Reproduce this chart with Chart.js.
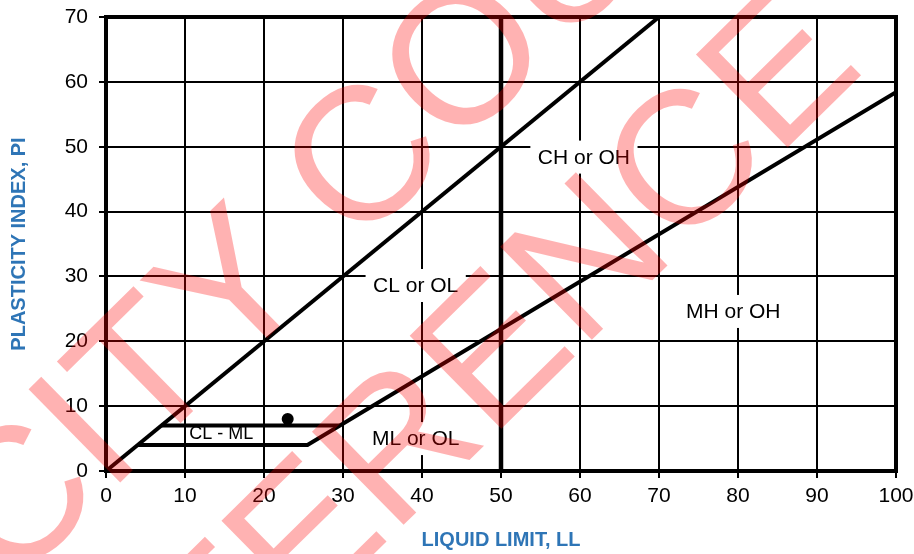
<!DOCTYPE html>
<html>
<head>
<meta charset="utf-8">
<script src="https://cdn.jsdelivr.net/npm/chart.js@4.4.0/dist/chart.umd.min.js"></script>
<style>
  html, body { margin: 0; padding: 0; background: #fff; }
  #wrap { width: 914px; height: 554px; }
</style>
</head>
<body>
<div id="wrap"><canvas id="plasticityChart" width="914" height="554"></canvas></div>
<script>
// Plasticity chart data (liquid limit LL vs plasticity index PI)
const xTickValues = [0, 10, 20, 30, 40, 50, 60, 70, 80, 90, 100];
const yTickValues = [0, 10, 20, 30, 40, 50, 60, 70];

// Upper boundary line
const uLineLL = [0, 70];
const uLinePI = [0, 70];

// A-line with the PI = 4 step at the bottom
const aLineLL = [4, 25.5, 100];
const aLinePI = [4, 4, 58.4];

// Top of the CL-ML band (PI = 7)
const clmlLL = [7, 29.6];
const clmlPI = [7, 7];

// LL = 50 divider
const dividerLL = [50, 50];
const dividerPI = [0, 70];

// Sample point
const sampleLL = [23];
const samplePI = [8];

// Zone names and where they sit
const zoneNames = ['CH or OH', 'CL or OL', 'MH or OH', 'ML or OL', 'CL - ML'];
const zoneLL = [60.5, 39.2, 79.4, 39.2, 14.6];
const zonePI = [48.4, 28.6, 24.6, 5.0, 5.9];

const toPoints = (xs, ys) => xs.map((x, i) => ({ x: x, y: ys[i] }));

const FONT = '"Liberation Sans", Arial, sans-serif';
const BLUE = '#2E75B6';

// keep the plot area where it is, no extra room for end labels
function noScalePadding(s) {
  s.paddingLeft = 0;
  s.paddingRight = 0;
  s.paddingTop = 0;
  s.paddingBottom = 0;
}

// White boxes with the zone names, drawn over the grid
const zoneLabels = {
  id: 'zoneLabels',
  beforeDatasetsDraw(chart) {
    const { ctx, scales } = chart;
    ctx.save();
    zoneNames.forEach((name, i) => {
      const px = scales.x.getPixelForValue(zoneLL[i]);
      const py = scales.y.getPixelForValue(zonePI[i]);
      const small = name === 'CL - ML';
      ctx.font = (small ? 18 : 21) + 'px ' + FONT;
      const w = ctx.measureText(name).width + (small ? 6 : 15);
      const h = small ? 20 : 33;
      ctx.fillStyle = '#fff';
      ctx.fillRect(px - w / 2, py - h / 2, w, h);
      ctx.fillStyle = '#000';
      ctx.textAlign = 'center';
      ctx.textBaseline = 'middle';
      ctx.fillText(name, px, py + 1);
    });
    ctx.restore();
  },
  afterDatasetsDraw(chart) {
    // thick frame all round
    const { ctx, chartArea } = chart;
    ctx.save();
    ctx.strokeStyle = '#000';
    ctx.lineWidth = 4;
    ctx.strokeRect(chartArea.left, chartArea.top, chartArea.right - chartArea.left, chartArea.bottom - chartArea.top);
    ctx.restore();
  }
};

// Red stamp over the whole picture
const stamp = {
  id: 'stamp',
  afterDraw(chart) {
    const ctx = chart.ctx;
    const a = 44.5 * Math.PI / 180;
    ctx.save();
    ctx.fillStyle = 'rgba(255, 0, 0, 0.3)';
    ctx.font = '190px ' + FONT;
    ctx.textAlign = 'left';
    ctx.textBaseline = 'alphabetic';
    [['CITY COUNCIL', 10, 591], ['REFERENCE', 31, 891]].forEach(([t, sx, sy]) => {
      ctx.save();
      ctx.translate(sx, sy);
      ctx.rotate(-a);
      ctx.fillText(t, 0, 0);
      ctx.restore();
    });
    ctx.restore();
  }
};

const lineStyle = {
  showLine: true,
  borderColor: '#000',
  borderWidth: 4,
  pointRadius: 0,
  fill: false,
  tension: 0
};

new Chart(document.getElementById('plasticityChart'), {
  type: 'scatter',
  data: {
    datasets: [
      { label: 'U', data: toPoints(uLineLL, uLinePI), ...lineStyle },
      { label: 'A', data: toPoints(aLineLL, aLinePI), ...lineStyle },
      { label: 'CL-ML', data: toPoints(clmlLL, clmlPI), ...lineStyle },
      { label: 'LL50', data: toPoints(dividerLL, dividerPI), ...lineStyle, borderWidth: 4.5 },
      {
        label: 'Sample',
        data: toPoints(sampleLL, samplePI),
        pointRadius: 6,
        pointBackgroundColor: '#000',
        pointBorderColor: '#000',
        pointBorderWidth: 0
      }
    ]
  },
  options: {
    responsive: false,
    animation: false,
    events: [],
    layout: { autoPadding: false, padding: { left: 0, right: 18, top: 17, bottom: 0 } },
    plugins: { legend: { display: false }, tooltip: { enabled: false } },
    scales: {
      x: {
        type: 'linear',
        min: 0,
        max: 100,
        afterBuildTicks: (s) => { s.ticks = xTickValues.map(v => ({ value: v })); },
        afterFit: (s) => { s.height = 83; noScalePadding(s); },
        grid: { color: '#000', lineWidth: 2, tickLength: 7, tickColor: '#000' },
        border: { color: '#000', width: 4 },
        ticks: { color: '#000', font: { family: FONT, size: 21 }, padding: 6, maxRotation: 0 },
        title: {
          display: true,
          text: 'LIQUID LIMIT, LL',
          color: BLUE,
          font: { family: FONT, size: 20, weight: 'bold' },
          padding: { top: 0, bottom: 2 }
        }
      },
      y: {
        type: 'linear',
        min: 0,
        max: 70,
        afterBuildTicks: (s) => { s.ticks = yTickValues.map(v => ({ value: v })); },
        afterFit: (s) => { s.width = 106; noScalePadding(s); },
        grid: { color: '#000', lineWidth: 2, tickLength: 7, tickColor: '#000' },
        border: { color: '#000', width: 4 },
        ticks: { color: '#000', font: { family: FONT, size: 21 }, padding: 11 },
        title: {
          display: true,
          text: 'PLASTICITY INDEX, PI',
          color: BLUE,
          font: { family: FONT, size: 20, weight: 'bold' },
          padding: { top: 7, bottom: 0 }
        }
      }
    }
  },
  plugins: [zoneLabels, stamp]
});
</script>
</body>
</html>
